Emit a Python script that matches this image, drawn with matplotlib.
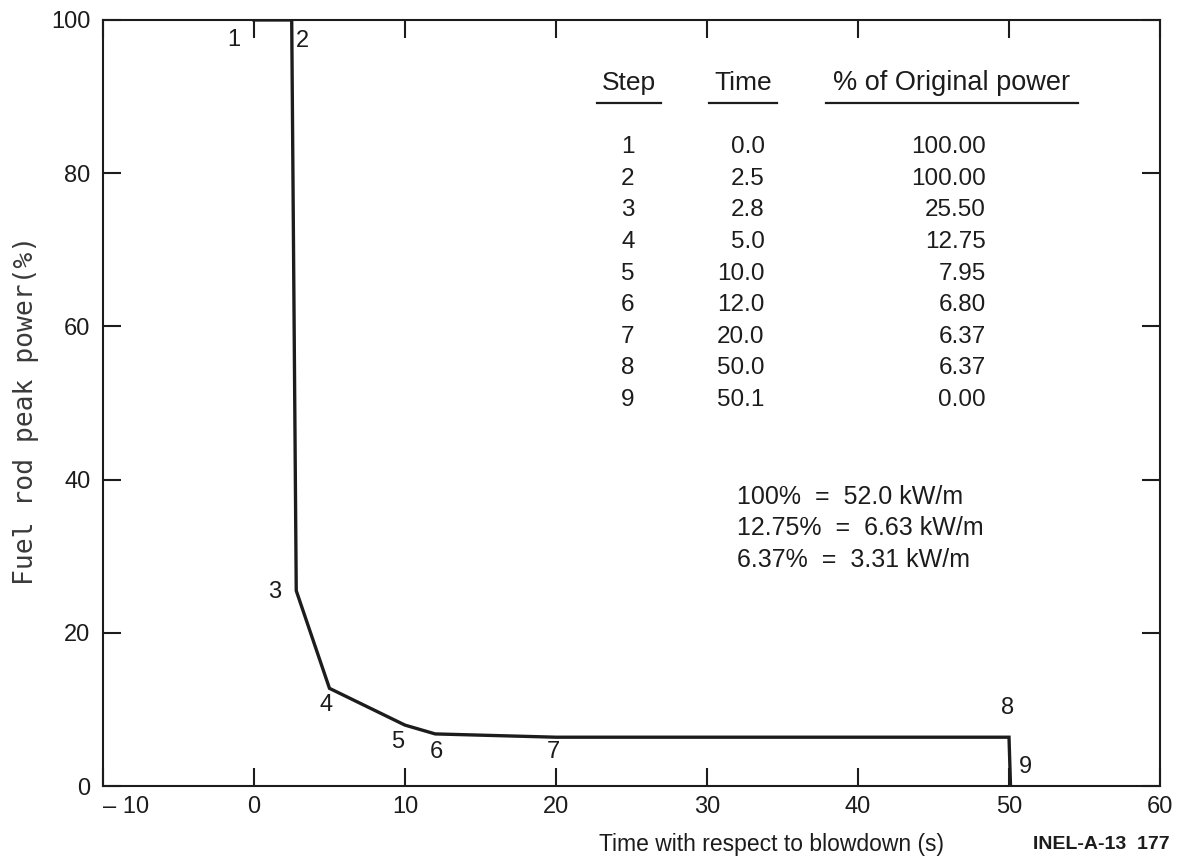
import matplotlib
matplotlib.use("Agg")
import matplotlib.pyplot as plt
from matplotlib.lines import Line2D

plt.rcParams["font.family"] = ["Liberation Sans", "DejaVu Sans"]

# step table: time (s) and % of original power
steps = [1, 2, 3, 4, 5, 6, 7, 8, 9]
step_time = [0.0, 2.5, 2.8, 5.0, 10.0, 12.0, 20.0, 50.0, 50.1]
step_power = [100.00, 100.00, 25.50, 12.75, 7.95, 6.80, 6.37, 6.37, 0.00]

conversions = [
    "100%  =  52.0 kW/m",
    "12.75%  =  6.63 kW/m",
    "6.37%  =  3.31 kW/m",
]

x_ticks = [-10, 0, 10, 20, 30, 40, 50, 60]
x_ticklabels = ["\u2013 10", "0", "10", "20", "30", "40", "50", "60"]
y_ticks = [0, 20, 40, 60, 80, 100]

# label offsets from each step point (data units)
label_dx = [-1.32, 0.68, -1.41, -0.23, -0.46, 0.05, -0.2, -0.07, 0.96]
label_dy = [-2.6, -2.7, -0.2, -2.15, -2.25, -2.4, -1.97, 3.83, 2.5]

INK = "#1c1c1c"

fig = plt.figure(figsize=(11.82, 8.61), dpi=100)
ax = fig.add_axes([0.0871, 0.0871, 0.8943, 0.8897])

ax.plot(step_time, step_power, color=INK, lw=2.4, solid_joinstyle="miter")

for n, x, y, dx, dy in zip(steps, step_time, step_power, label_dx, label_dy):
    ax.text(x + dx, y + dy, str(n), fontsize=17, color=INK,
            ha="center", va="center")

ax.set_xlim(-10, 60)
ax.set_ylim(0, 100)
ax.set_xticks(x_ticks)
ax.set_xticklabels(x_ticklabels)
ax.set_yticks(y_ticks)
# the "– 10" label sits to the right of its tick
ax.get_xticklabels()[0].set_horizontalalignment("left")

for sp in ax.spines.values():
    sp.set_linewidth(1.5)
    sp.set_color(INK)

ax.tick_params(axis="both", direction="in", top=True, right=True,
               length=13, width=1.5, color=INK, labelsize=17,
               labelcolor=INK)
ax.tick_params(axis="x", pad=7)
ax.tick_params(axis="y", pad=9)

# axis labels
ax.text(0.632, -0.077, "Time with respect to blowdown (s)",
        transform=ax.transAxes, fontsize=16.5, color=INK,
        ha="center", va="center")
ax.text(-0.073, 0.49, "Fuel rod peak power(%)", transform=ax.transAxes,
        rotation=90, fontsize=19, color="#3a3a3a",
        family="DejaVu Sans Mono", ha="center", va="center")
ax.text(1.0095, -0.077, "INEL-A-13  177", transform=ax.transAxes,
        fontsize=14, fontweight="bold", color=INK, ha="right", va="center")

# ------
# table of steps
head_y = 0.918
ax.text(0.4976, head_y, "Step", transform=ax.transAxes, fontsize=19,
        color=INK, ha="center", va="center")
ax.text(0.6055, head_y, "Time", transform=ax.transAxes, fontsize=19,
        color=INK, ha="center", va="center")
ax.text(0.803, head_y, "% of Original power", transform=ax.transAxes,
        fontsize=19.5, color=INK, ha="center", va="center")

for x0, x1 in [(0.467, 0.528), (0.573, 0.638), (0.684, 0.922)]:
    ax.add_line(Line2D([x0, x1], [0.8916, 0.8916], transform=ax.transAxes,
                       color=INK, lw=1.6))

row0, drow = 0.834, 0.04125
for i, (n, t, p) in enumerate(zip(steps, step_time, step_power)):
    yy = row0 - i * drow
    ax.text(0.4967, yy, f"{n}", transform=ax.transAxes, fontsize=17.5,
            color=INK, ha="center", va="center")
    ax.text(0.626, yy, f"{t:.1f}", transform=ax.transAxes, fontsize=17.5,
            color=INK, ha="right", va="center")
    ax.text(0.835, yy, f"{p:.2f}", transform=ax.transAxes, fontsize=17.5,
            color=INK, ha="right", va="center")

for yy, s in zip([0.377, 0.337, 0.295], conversions):
    ax.text(0.600, yy, s, transform=ax.transAxes, fontsize=18,
            color=INK, ha="left", va="center")

fig.savefig("out.png", dpi=100)
